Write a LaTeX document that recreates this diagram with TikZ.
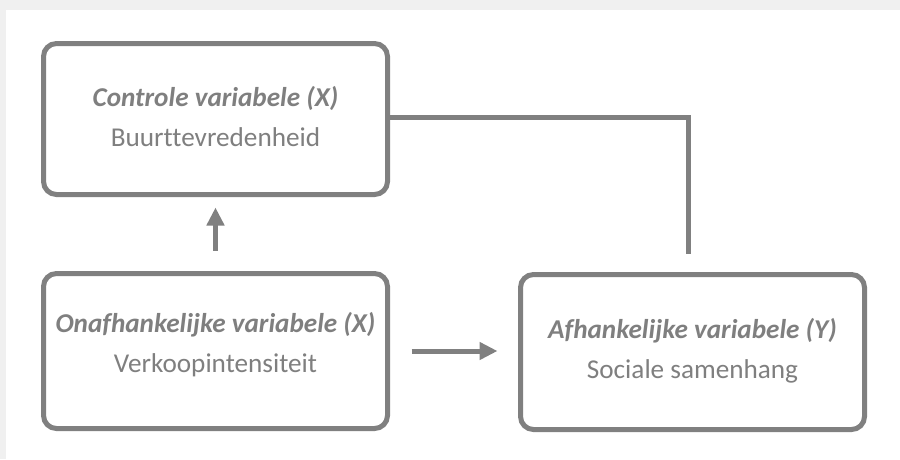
\documentclass[tikz,border=0pt]{standalone}
\usepackage{fontspec}
\setmainfont{Carlito}[Ligatures={NoCommon}]
\usetikzlibrary{arrows.meta}
\definecolor{framegray}{HTML}{F0F0F0}
\definecolor{linegray}{HTML}{808080}
\definecolor{textgray}{HTML}{7F7F7F}
\tikzset{
  varbox/.style={draw=linegray, line width=5pt, rounded corners=13pt,
    minimum width=344pt, minimum height=151pt, inner sep=0pt, fill=white},
  vartext/.style={text=textgray, align=center, inner sep=0pt,
    font=\fontsize{27.2}{40}\selectfont},
  arr/.style={draw=linegray, line width=5pt,
    -{Triangle[width=17pt,length=18pt]}},
  link/.style={draw=linegray, line width=5pt}
}
\begin{document}
\begin{tikzpicture}[x=1pt, y=-1pt]
  % page frame: light grey strip at top and left, white canvas
  \fill[framegray] (0,0) rectangle (900,459);
  \fill[white] (6,10) rectangle (900,459);
  \useasboundingbox (0,0) rectangle (900,459);

  % variable boxes
  \node[varbox] (b1) at (215.5,119) {};
  \node[varbox, minimum height=155pt] (b2) at (215.5,351) {};
  \node[varbox, minimum height=155pt] (b3) at (692.5,352) {};

  % box labels
  \node[vartext] (t1) at (215.5,117) {\textbf{\textit{Controle variabele (X)}}\\Buurttevredenheid};
  \node[vartext] (t2) at (215.5,345) {\textbf{\textit{Onafhankelijke variabele (X)}}\\Verkoopintensiteit};
  \node[vartext] (t3) at (692.5,351) {\textbf{\textit{Afhankelijke variabele (Y)}}\\Sociale samenhang};

  % connectors
  \draw[arr, shorten <=20.5pt, shorten >=10.5pt] (b2.north) -- (b1.south);
  \draw[arr, shorten <=21.5pt, shorten >=20.5pt] (b2.east) -- (b2.east -| b3.west);
  \coordinate (c) at (688,254);
  \draw[link] ([yshift=2pt]b1.east) -| (c);
\end{tikzpicture}
\end{document}
